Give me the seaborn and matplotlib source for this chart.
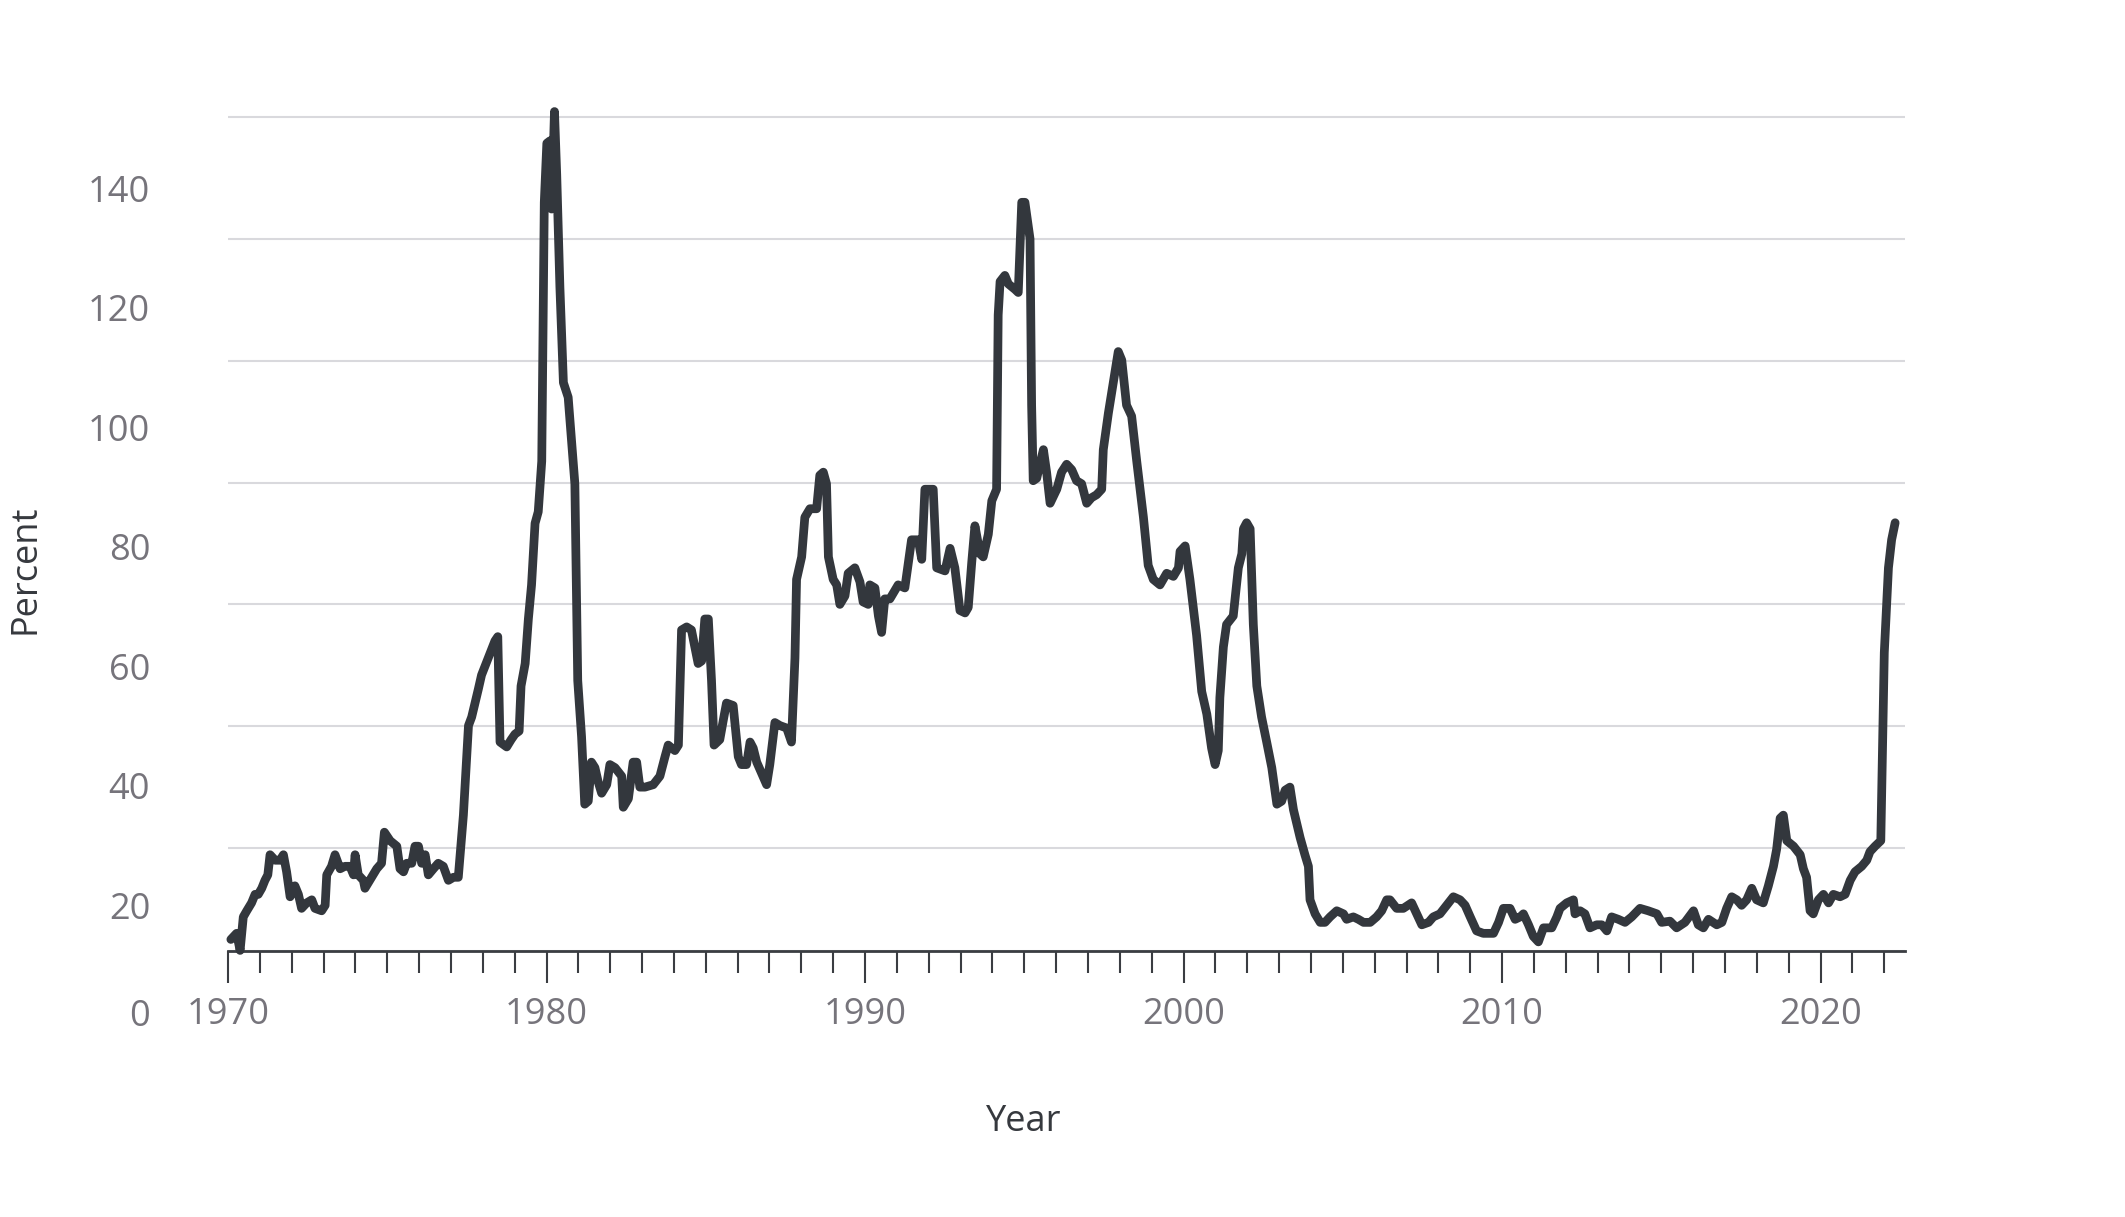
import matplotlib
matplotlib.use("Agg")
import matplotlib.pyplot as plt
import matplotlib.transforms as mtransforms
from matplotlib.ticker import MultipleLocator
import pandas as pd
import seaborn as sns

# ---------------- data ----------------
years = [
    1970.09, 1970.27, 1970.38, 1970.48, 1970.59, 1970.74, 1970.85, 1970.95, 1971.06, 1971.16,
    1971.25, 1971.32, 1971.48, 1971.63, 1971.74, 1971.84, 1971.95, 1972.10, 1972.21, 1972.31,
    1972.47, 1972.63, 1972.73, 1972.94, 1973.05, 1973.10, 1973.25, 1973.36, 1973.52, 1973.67,
    1973.83, 1973.94, 1973.99, 1974.09, 1974.25, 1974.30, 1974.51, 1974.67, 1974.82, 1974.91,
    1975.09, 1975.30, 1975.40, 1975.51, 1975.61, 1975.77, 1975.87, 1975.98, 1976.08, 1976.19,
    1976.29, 1976.45, 1976.60, 1976.76, 1976.92, 1977.08, 1977.23, 1977.39, 1977.55, 1977.65,
    1977.86, 1977.96, 1978.17, 1978.38, 1978.47, 1978.54, 1978.75, 1978.89, 1979.01, 1979.14,
    1979.20, 1979.33, 1979.43, 1979.53, 1979.64, 1979.74, 1979.85, 1979.93, 1980.01, 1980.11,
    1980.16, 1980.25, 1980.32, 1980.42, 1980.53, 1980.68, 1980.89, 1980.94, 1980.98, 1981.10,
    1981.20, 1981.31, 1981.41, 1981.52, 1981.62, 1981.73, 1981.89, 1981.99, 1982.15, 1982.36,
    1982.41, 1982.57, 1982.72, 1982.83, 1982.93, 1983.09, 1983.35, 1983.56, 1983.72, 1983.82,
    1984.03, 1984.14, 1984.24, 1984.40, 1984.55, 1984.76, 1984.87, 1984.97, 1985.08, 1985.18,
    1985.26, 1985.44, 1985.55, 1985.65, 1985.86, 1986.02, 1986.12, 1986.28, 1986.39, 1986.49,
    1986.60, 1986.75, 1986.91, 1987.01, 1987.17, 1987.33, 1987.54, 1987.69, 1987.80, 1987.85,
    1988.01, 1988.11, 1988.27, 1988.48, 1988.58, 1988.69, 1988.79, 1988.85, 1989.00, 1989.11,
    1989.21, 1989.37, 1989.47, 1989.68, 1989.84, 1989.94, 1990.10, 1990.15, 1990.31, 1990.42,
    1990.52, 1990.62, 1990.78, 1990.94, 1991.04, 1991.25, 1991.46, 1991.67, 1991.78, 1991.88,
    1992.14, 1992.25, 1992.51, 1992.67, 1992.82, 1992.98, 1993.14, 1993.24, 1993.35, 1993.45,
    1993.61, 1993.71, 1993.87, 1993.98, 1994.13, 1994.18, 1994.24, 1994.39, 1994.50, 1994.71,
    1994.81, 1994.92, 1995.02, 1995.18, 1995.23, 1995.28, 1995.39, 1995.49, 1995.60, 1995.70,
    1995.81, 1996.02, 1996.17, 1996.33, 1996.49, 1996.64, 1996.80, 1996.96, 1997.11, 1997.27,
    1997.43, 1997.48, 1997.64, 1997.85, 1997.95, 1998.06, 1998.21, 1998.37, 1998.53, 1998.74,
    1998.89, 1999.05, 1999.26, 1999.47, 1999.68, 1999.84, 1999.89, 2000.05, 2000.20, 2000.41,
    2000.57, 2000.73, 2000.88, 2000.99, 2001.09, 2001.14, 2001.25, 2001.35, 2001.56, 2001.72,
    2001.83, 2001.88, 2001.98, 2002.09, 2002.19, 2002.30, 2002.45, 2002.61, 2002.77, 2002.93,
    2003.08, 2003.19, 2003.34, 2003.45, 2003.66, 2003.81, 2003.92, 2003.97, 2004.13, 2004.29,
    2004.44, 2004.60, 2004.81, 2005.02, 2005.12, 2005.33, 2005.49, 2005.65, 2005.86, 2006.06,
    2006.22, 2006.38, 2006.48, 2006.69, 2006.90, 2007.16, 2007.32, 2007.48, 2007.69, 2007.84,
    2008.05, 2008.26, 2008.47, 2008.68, 2008.84, 2009.00, 2009.20, 2009.41, 2009.73, 2009.89,
    2010.04, 2010.25, 2010.41, 2010.57, 2010.67, 2010.83, 2010.98, 2011.14, 2011.30, 2011.56,
    2011.72, 2011.82, 2012.03, 2012.24, 2012.29, 2012.45, 2012.60, 2012.76, 2012.97, 2013.13,
    2013.29, 2013.44, 2013.65, 2013.86, 2014.07, 2014.33, 2014.59, 2014.86, 2015.01, 2015.27,
    2015.48, 2015.74, 2016.01, 2016.16, 2016.32, 2016.48, 2016.74, 2016.90, 2017.05, 2017.21,
    2017.37, 2017.52, 2017.68, 2017.84, 2017.99, 2018.20, 2018.36, 2018.52, 2018.62, 2018.73,
    2018.83, 2018.94, 2019.15, 2019.36, 2019.46, 2019.56, 2019.67, 2019.77, 2019.93, 2020.09,
    2020.25, 2020.40, 2020.61, 2020.77, 2020.93, 2021.08, 2021.29, 2021.45, 2021.55, 2021.71,
    2021.89, 2022.00, 2022.13, 2022.23, 2022.34,
]
values = [
    5.0, 6.0, 3.2, 8.7, 9.7, 11.0, 12.4, 12.4, 13.4, 14.7,
    15.6, 18.9, 18.0, 18.0, 18.9, 16.1, 12.0, 13.8, 12.4, 10.1,
    11.0, 11.5, 10.1, 9.7, 10.6, 15.6, 17.0, 18.9, 16.6, 17.0,
    17.0, 15.6, 18.9, 15.6, 14.7, 13.4, 15.2, 16.6, 17.5, 22.6,
    21.2, 20.3, 16.6, 16.1, 17.5, 17.5, 20.3, 20.3, 17.5, 18.9,
    15.6, 16.6, 17.5, 17.0, 14.7, 15.2, 15.2, 25.4, 40.1, 41.5,
    46.1, 48.4, 51.2, 54.0, 54.7, 37.4, 36.6, 37.8, 38.7, 39.2,
    46.6, 50.3, 57.6, 63.2, 73.3, 75.2, 83.5, 126.0, 135.7, 136.1,
    124.9, 140.9, 130.6, 112.1, 96.4, 94.0, 79.8, 61.4, 47.5, 38.3,
    27.2, 27.7, 34.1, 33.2, 30.9, 29.0, 30.4, 33.7, 33.2, 31.8,
    26.7, 28.1, 34.1, 34.1, 30.0, 30.0, 30.4, 31.8, 35.0, 36.9,
    36.0, 36.9, 55.8, 56.3, 55.8, 50.3, 50.7, 57.6, 57.6, 47.5,
    36.9, 37.8, 41.0, 43.8, 43.4, 35.0, 33.7, 33.7, 37.4, 36.4,
    34.1, 32.3, 30.4, 33.7, 40.6, 40.1, 39.7, 37.4, 51.2, 64.1,
    67.8, 74.3, 75.7, 75.7, 81.2, 81.7, 79.8, 67.8, 64.1, 63.2,
    60.0, 61.4, 65.1, 66.0, 63.7, 60.4, 60.0, 63.2, 62.7, 58.1,
    55.4, 60.9, 60.9, 62.3, 63.2, 62.7, 70.6, 70.6, 67.4, 78.9,
    78.9, 66.0, 65.5, 69.2, 66.0, 59.0, 58.6, 59.5, 66.9, 72.9,
    68.3, 67.8, 71.5, 77.0, 78.9, 107.5, 113.0, 114.0, 112.6, 111.7,
    111.2, 126.0, 126.0, 120.0, 92.7, 80.3, 80.7, 83.0, 85.4, 81.7,
    76.6, 78.9, 81.7, 83.0, 82.1, 80.3, 79.8, 76.6, 77.5, 78.0,
    78.9, 85.4, 91.4, 98.3, 101.5, 100.1, 92.7, 90.9, 83.5, 74.3,
    66.4, 64.1, 63.2, 65.1, 64.6, 66.0, 68.7, 69.6, 64.1, 54.9,
    45.7, 42.0, 36.4, 33.7, 36.0, 44.7, 53.0, 56.7, 58.1, 66.0,
    68.3, 72.4, 73.4, 72.4, 56.7, 46.6, 41.5, 37.4, 33.2, 27.2,
    27.7, 29.5, 30.0, 26.3, 21.7, 18.9, 17.0, 11.5, 9.2, 7.8,
    7.8, 8.7, 9.7, 9.2, 8.3, 8.7, 8.3, 7.8, 7.8, 8.7,
    9.7, 11.5, 11.5, 10.1, 10.1, 11.0, 9.2, 7.4, 7.8, 8.7,
    9.2, 10.6, 12.0, 11.5, 10.6, 8.7, 6.4, 6.0, 6.0, 7.8,
    10.1, 10.1, 8.3, 8.7, 9.2, 7.4, 5.5, 4.6, 6.9, 6.9,
    8.7, 10.1, 11.0, 11.5, 9.2, 9.7, 9.2, 6.9, 7.4, 7.4,
    6.4, 8.7, 8.3, 7.8, 8.7, 10.1, 9.7, 9.2, 7.8, 8.0,
    6.9, 7.8, 9.7, 7.4, 6.9, 8.3, 7.4, 7.8, 10.1, 12.0,
    11.5, 10.6, 11.5, 13.4, 11.5, 11.0, 13.8, 17.0, 19.8, 24.9,
    25.4, 21.2, 20.3, 18.9, 16.6, 15.2, 9.7, 9.2, 11.5, 12.4,
    11.0, 12.4, 12.0, 12.4, 14.7, 16.1, 17.0, 18.0, 19.4, 20.3,
    21.2, 52.1, 66.0, 70.6, 73.4,
]

x_major_ticks = [1970, 1980, 1990, 2000, 2010, 2020]
x_tick_labels = ["1970", "1980", "1990", "2000", "2010", "2020"]
y_axis_floor = 3.1
y_tick_values = [y_axis_floor, 20, 40, 60, 80, 100, 120, 140]
y_tick_labels = ["0", "20", "40", "60", "80", "100", "120", "140"]

# ---------------- style ----------------
sns.set_theme(style="white")
plt.rcParams["font.family"] = ["Open Sans", "DejaVu Sans"]

LINE_COLOR = "#33373d"
AXIS_COLOR = "#3a3d42"
TICK_LABEL_COLOR = "#76747b"
TITLE_COLOR = "#36393e"
GRID_COLOR = "#d9d9dd"

W, H = 2125, 1217
fig = plt.figure(figsize=(W / 100, H / 100), dpi=100)
fig.patch.set_facecolor("white")

ax_left, ax_right, ax_top, ax_bottom = 228, 1905, 100, 951
ax = fig.add_axes([ax_left / W, (H - ax_bottom) / H,
                   (ax_right - ax_left) / W, (ax_bottom - ax_top) / H])
ax.set_facecolor("white")

df = pd.DataFrame({"Year": years, "Percent": values})
sns.lineplot(data=df, x="Year", y="Percent", ax=ax, color=LINE_COLOR,
             linewidth=6.3, sort=False, estimator=None, zorder=3,
             solid_joinstyle="round", solid_capstyle="round", clip_on=False)

px_per_unit = 6.0917
ax.set_xlim(1970.0, 2022.65)
ax.set_ylim(y_axis_floor, y_axis_floor + (ax_bottom - ax_top) / px_per_unit)

for side in ["top", "right", "left"]:
    ax.spines[side].set_visible(False)
ax.spines["bottom"].set_color(AXIS_COLOR)
ax.spines["bottom"].set_linewidth(2.0)

ax.set_xticks(x_major_ticks)
ax.set_xticklabels(x_tick_labels)
ax.xaxis.set_minor_locator(MultipleLocator(1))
ax.tick_params(axis="x", which="major", bottom=True, direction="out", length=23,
               width=1.5, color=AXIS_COLOR, labelsize=26, labelcolor=TICK_LABEL_COLOR, pad=10)
ax.tick_params(axis="x", which="minor", bottom=True, direction="out", length=16,
               width=1.5, color=AXIS_COLOR)

ax.set_yticks(y_tick_values)
ax.set_yticklabels(y_tick_labels)
ax.tick_params(axis="y", which="both", left=False, length=0, labelsize=26,
               labelcolor=TICK_LABEL_COLOR, pad=56)
ax.yaxis.grid(True, color=GRID_COLOR, linewidth=1.5)
ax.xaxis.grid(False)
ax.set_axisbelow(True)

# y labels sit below their gridlines in the reference
for lab, v in zip(ax.get_yticklabels(), y_tick_values):
    drop = 62 if v < 20 else 57 + (v - 20) * 0.117
    lab.set_transform(lab.get_transform() +
                      mtransforms.ScaledTranslation(0, -drop / 100, fig.dpi_scale_trans))

ax.set_xlabel("Year", fontsize=26, color=TITLE_COLOR)
ax.xaxis.label.set_va("center")
ax.xaxis.set_label_coords((1024 - ax_left) / (ax_right - ax_left),
                          (ax_bottom - 1122) / (ax_bottom - ax_top))
ax.set_ylabel("Percent", fontsize=26, color=TITLE_COLOR)
ax.yaxis.label.set_va("center")
ax.yaxis.set_label_coords((25 - ax_left) / (ax_right - ax_left),
                          (ax_bottom - 569) / (ax_bottom - ax_top))

fig.savefig("out.png", dpi=100, facecolor="white")
